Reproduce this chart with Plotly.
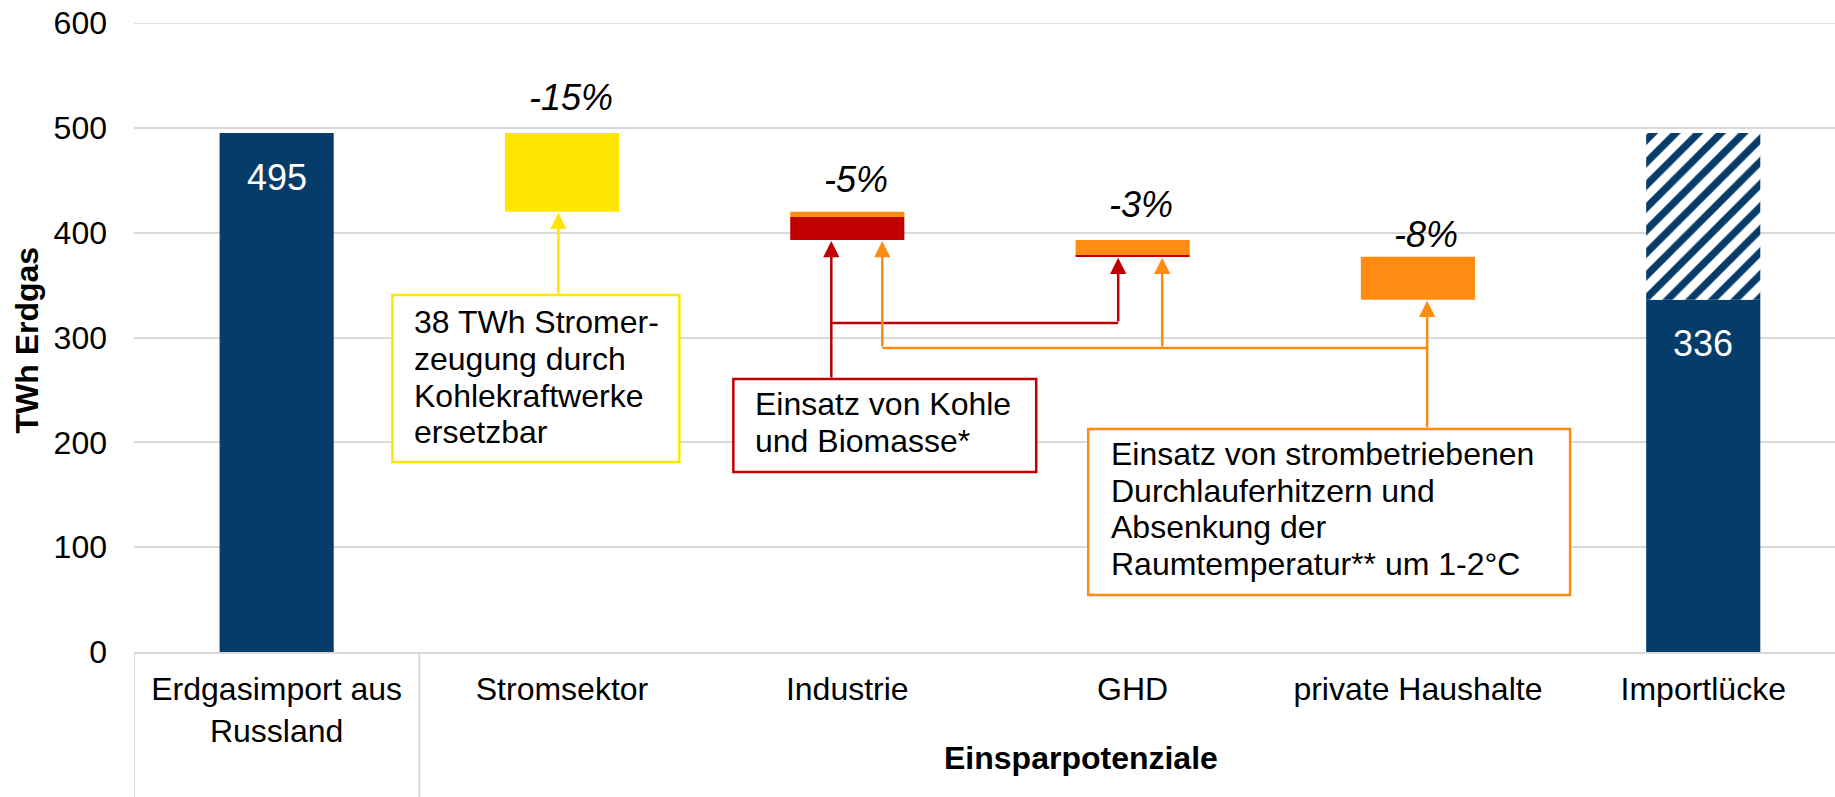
import plotly.graph_objects as go

# ---------------- data ----------------
categories = ["Erdgasimport aus<br>Russland", "Stromsektor", "Industrie", "GHD",
              "private Haushalte", "Importlücke"]
start_value = 495
strom = [0, 75, 0, 0, 0, 0]          # yellow: Stromsektor (Kohlekraftwerke)
waerme = [0, 0, 5, 15, 41, 0]        # orange: Durchlauferhitzer / Raumtemperatur
kohle = [0, 0, 22, 1, 0, 0]          # red: Kohle und Biomasse
pct_labels = ["", "-15%", "-5%", "-3%", "-8%", ""]
group_label = "Einsparpotenziale"
y_title = "TWh Erdgas"
y_ticks = [0, 100, 200, 300, 400, 500, 600]

# ---------------- style ----------------
NAVY = "#053C69"
YELLOW = "#FFE600"
ORANGE = "#FF8C12"
RED = "#C00000"
GRID = "#D9D9D9"
FONT = "Liberation Sans, Arial, sans-serif"

W, H = 1835, 797
PLOT_L, PLOT_T, PLOT_B = 133.5, 23, 652
CAT_W = 285.4


def dx(px):
    return (px - PLOT_L) / CAT_W - 0.5


def dy(py):
    return (PLOT_B - py) * 600 / (PLOT_B - PLOT_T)


def pyp(py):
    return (PLOT_B - py) / (PLOT_B - PLOT_T)


# ---------------- waterfall levels ----------------
n = len(categories)
idx = list(range(n))
level = start_value
tops, y_base, o_base, r_base = [0] * n, [0] * n, [0] * n, [0] * n
for i in range(1, n - 1):
    tops[i] = level
    y_base[i] = level - strom[i]
    o_base[i] = y_base[i] - waerme[i]
    r_base[i] = o_base[i] - kohle[i]
    level = r_base[i]
final_value = level
gap = start_value - final_value

fig = go.Figure()
BW = 0.40
fig.add_bar(x=[0, n - 1], y=[start_value, final_value], base=[0, 0], width=BW,
            marker=dict(color=NAVY, line=dict(width=0)), hoverinfo="skip")
fig.add_bar(x=[n - 1], y=[gap], base=[final_value], width=BW,
            marker=dict(color="white", line=dict(width=0),
                        pattern=dict(shape="/", fgcolor=NAVY, bgcolor="white", fgopacity=1,
                                     size=16, solidity=0.45)), hoverinfo="skip")
mid = idx[1:-1]
fig.add_bar(x=mid, y=[strom[i] for i in mid], base=[y_base[i] for i in mid], width=BW,
            marker=dict(color=YELLOW, line=dict(width=0)), hoverinfo="skip")
fig.add_bar(x=mid, y=[waerme[i] for i in mid], base=[o_base[i] for i in mid], width=BW,
            marker=dict(color=ORANGE, line=dict(width=0)), hoverinfo="skip")
fig.add_bar(x=mid, y=[kohle[i] for i in mid], base=[r_base[i] for i in mid], width=BW,
            marker=dict(color=RED, line=dict(width=0)), hoverinfo="skip")

annotations = []
shapes = []

# top gridline (plotly omits it at the range edge)
shapes.append(dict(type="line", xref="paper", yref="y", x0=0, x1=1, y0=y_ticks[-1], y1=y_ticks[-1],
                   line=dict(color=GRID, width=1.5), layer="below"))

# value labels inside navy bars
for i, v in [(0, start_value), (n - 1, final_value)]:
    annotations.append(dict(x=i, y=v, xref="x", yref="y", text=str(v), showarrow=False,
                            yshift=-44, font=dict(family=FONT, size=36, color="white")))

# percentage labels
pct_shift = {1: 36, 2: 32, 3: 36, 4: 22}
for i in mid:
    annotations.append(dict(x=i + 0.03, y=tops[i], xref="x", yref="y", text=pct_labels[i],
                            showarrow=False, yshift=pct_shift[i],
                            font=dict(family=FONT, size=36, color="black", style="italic")))

# text boxes
boxes = [
    (YELLOW, 392, 679, 295, 462, 412,
     ["38 TWh Stromer-", "zeugung durch", "Kohlekraftwerke", "ersetzbar"], [333, 370, 407, 443]),
    (RED, 733, 1036, 379, 472, 753,
     ["Einsatz von Kohle", "und Biomasse*"], [415, 452]),
    (ORANGE, 1088, 1570, 429, 595, 1109,
     ["Einsatz von strombetriebenen", "Durchlauferhitzern und", "Absenkung der",
      "Raumtemperatur** um 1-2°C"], [465, 502, 538, 575]),
]
for col, x0, x1, y0, y1, tx, lines, bls in boxes:
    shapes.append(dict(type="rect", xref="x", yref="y", x0=dx(x0), x1=dx(x1),
                       y0=dy(y1), y1=dy(y0), fillcolor="white",
                       line=dict(color=col, width=2.5), layer="above"))
    for t, bl in zip(lines, bls):
        annotations.append(dict(x=dx(tx), y=dy(bl - 11), xref="x", yref="y", text=t,
                                showarrow=False, xanchor="left", yanchor="middle",
                                font=dict(family=FONT, size=32, color="black")))


def arrow(col, x, y_tail, y_tip):
    annotations.append(dict(x=x, y=y_tip, ax=x, ay=y_tail, xref="x", yref="y",
                            axref="x", ayref="y", text="", showarrow=True,
                            arrowhead=2, arrowsize=1.3, arrowwidth=2.5,
                            arrowcolor=col, standoff=1))


def hline(col, xa, xb, y):
    shapes.append(dict(type="line", xref="x", yref="y", x0=xa, x1=xb, y0=y, y1=y,
                       line=dict(color=col, width=2.5), layer="above"))


# yellow connector
arrow(YELLOW, dx(558), dy(295), y_base[1])
# red connectors
xr1, xr2 = dx(831), dx(1118)
arrow(RED, xr1, dy(379), r_base[2])
hline(RED, xr1, xr2, dy(323))
arrow(RED, xr2, dy(323), r_base[3])
# orange connectors
xo1, xo2, xo3 = dx(882), dx(1162), dx(1427)
arrow(ORANGE, xo3, dy(429), o_base[4])
hline(ORANGE, xo1, xo3, dy(348))
arrow(ORANGE, xo1, dy(348), r_base[2])
arrow(ORANGE, xo2, dy(348), r_base[3])

# category separator lines below the axis
for xv in [-0.5, 0.5]:
    shapes.append(dict(type="line", xref="x", yref="paper", x0=xv, x1=xv,
                       y0=0, y1=pyp(H), line=dict(color=GRID, width=2)))

# group label and y-axis title
annotations.append(dict(x=dx(1081), y=pyp(758), xref="x", yref="paper",
                        text=f"<b>{group_label}</b>", xanchor="center", yanchor="middle",
                        showarrow=False, font=dict(family=FONT, size=32, color="black")))
annotations.append(dict(x=(26 - PLOT_L) / (W - PLOT_L), y=pyp(340), xref="paper", yref="paper",
                        text=f"<b>{y_title}</b>", textangle=-90, showarrow=False,
                        xanchor="center", yanchor="middle",
                        font=dict(family=FONT, size=32, color="black")))

fig.update_layout(
    width=W, height=H,
    margin=dict(l=PLOT_L, r=0, t=PLOT_T, b=H - PLOT_B, autoexpand=False),
    paper_bgcolor="white", plot_bgcolor="white",
    barmode="overlay", showlegend=False,
    font=dict(family=FONT, size=32, color="black"),
    annotations=annotations, shapes=shapes,
    xaxis=dict(tickmode="array", tickvals=idx, ticktext=categories,
               range=[-0.5, -0.5 + (W - PLOT_L) / CAT_W],
               showgrid=False, zeroline=False, showline=True, linecolor=GRID, linewidth=2,
               ticks="", ticklabelstandoff=8,
               tickfont=dict(family=FONT, size=32, color="black")),
    yaxis=dict(range=[0, 600], tickvals=y_ticks,
               showgrid=True, gridcolor=GRID, gridwidth=1.5, zeroline=False,
               showline=False, ticks="", ticklabelstandoff=26,
               tickfont=dict(family=FONT, size=32, color="black")),
)

fig.write_html("out.html", config={"displayModeBar": False},
               post_script="document.body.style.margin='0';document.body.style.overflow='hidden';")
